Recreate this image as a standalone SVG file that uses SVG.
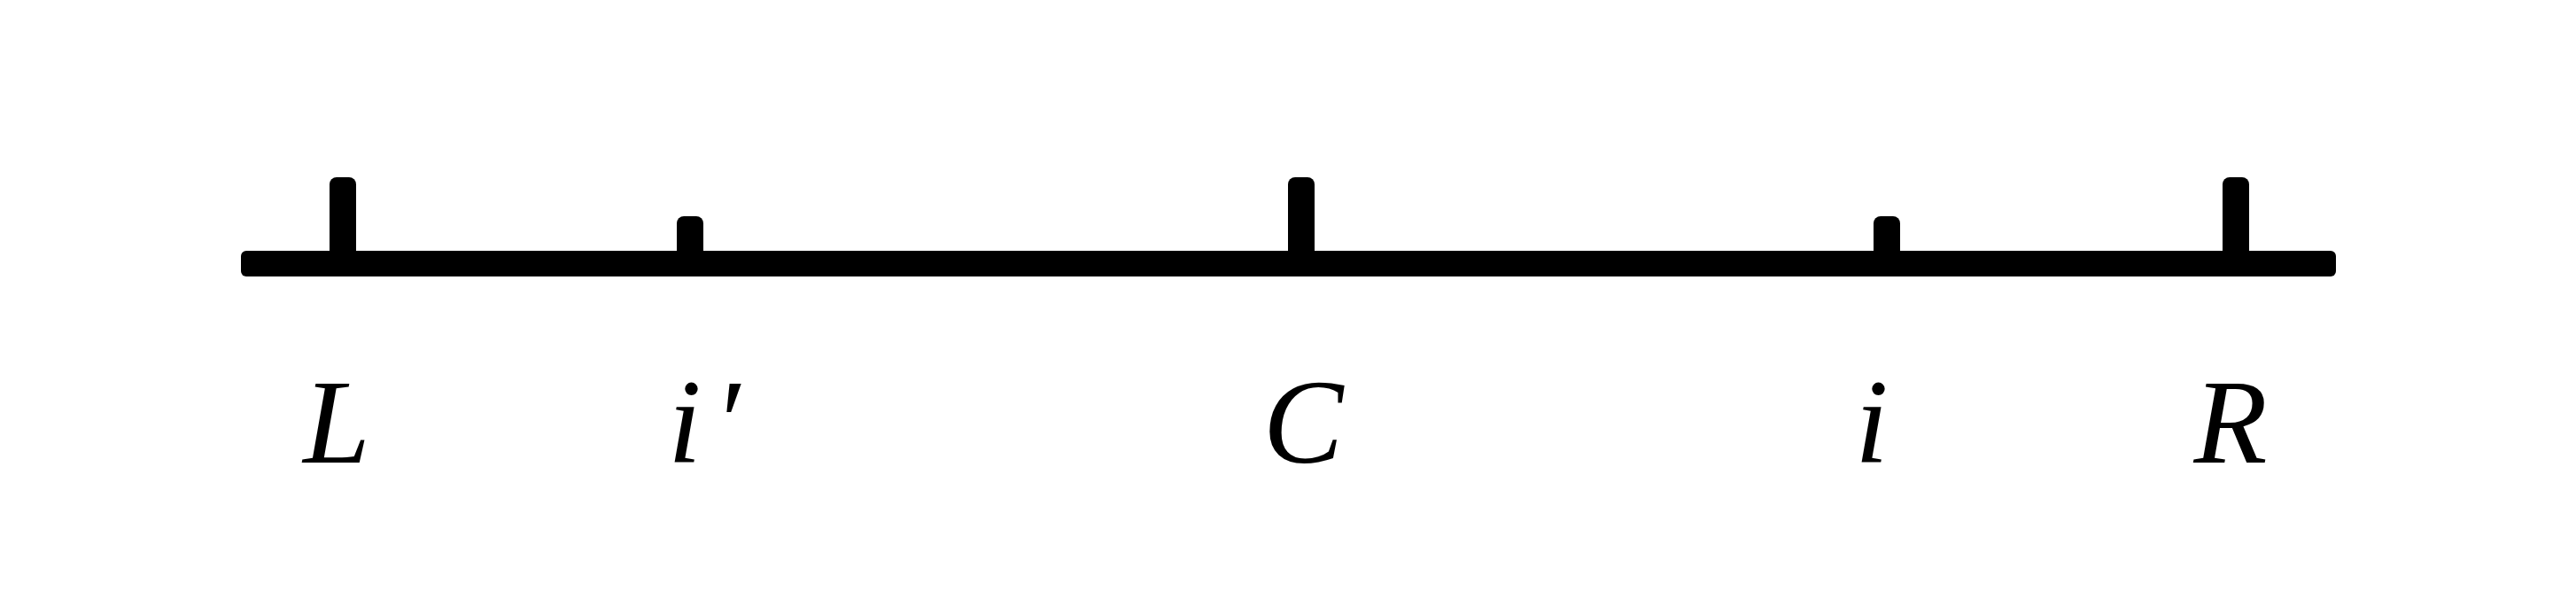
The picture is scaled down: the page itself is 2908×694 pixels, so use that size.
<svg xmlns="http://www.w3.org/2000/svg" width="2908" height="694" viewBox="0 0 2908 694">
<style>
.lbl{font-family:"Liberation Serif","Times New Roman",serif;font-style:italic;font-size:136px;fill:#000;text-anchor:middle}
.bar{fill:#000}
</style>
<rect width="2908" height="694" fill="#fff"/>
<g id="connectors">
<rect class="bar" x="272" y="283" width="2365" height="29" rx="6"/>
</g>
<g id="tick-L"><rect class="bar" x="372" y="200" width="30" height="100" rx="8"/></g>
<g id="tick-i-prime"><rect class="bar" x="764" y="244" width="30" height="56" rx="8"/></g>
<g id="tick-C"><rect class="bar" x="1454" y="200" width="30" height="100" rx="8"/></g>
<g id="tick-i"><rect class="bar" x="2115" y="244" width="30" height="56" rx="8"/></g>
<g id="tick-R"><rect class="bar" x="2509" y="200" width="30" height="100" rx="8"/></g>
<g id="label-L"><text class="lbl" x="380" y="522">L</text></g>
<g id="label-i-prime"><text class="lbl" y="522"><tspan x="773">i</tspan><tspan x="820">′</tspan></text></g>
<g id="label-C"><text class="lbl" x="1471" y="522">C</text></g>
<g id="label-i"><text class="lbl" x="2113" y="522">i</text></g>
<g id="label-R"><text class="lbl" x="2518" y="522">R</text></g>
</svg>
